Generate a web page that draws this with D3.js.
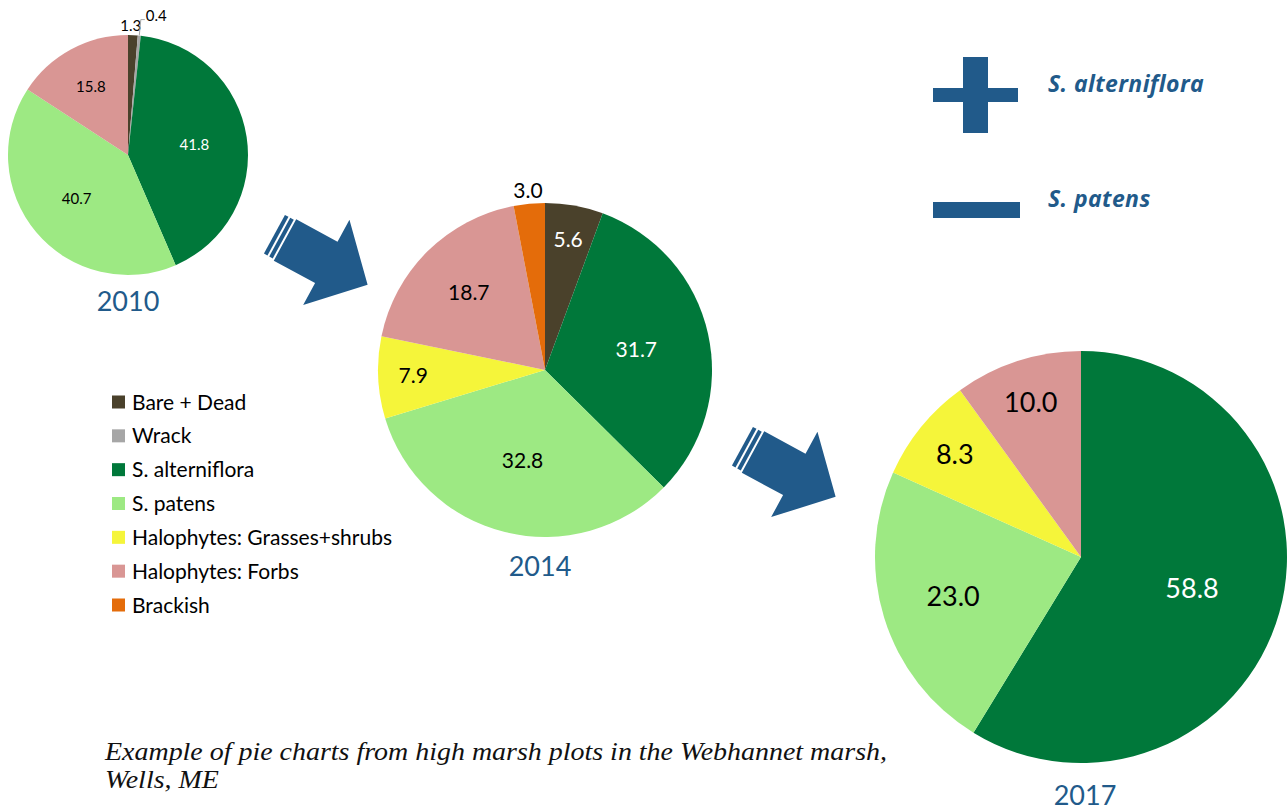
<!DOCTYPE html>
<html>
<head>
<meta charset="utf-8">
<script src="https://cdn.jsdelivr.net/npm/d3@7"></script>
<style>
  body { margin: 0; background: #fff; }
  svg { display: block; }
</style>
</head>
<body>
<div class="chart"></div>
<script>
// categories + one value list per year (percent cover)
var categories = ["Bare + Dead", "Wrack", "S. alterniflora", "S. patens",
                  "Halophytes: Grasses+shrubs", "Halophytes: Forbs", "Brackish"];
var years = ["2010", "2014", "2017"];
var values2010 = [1.3, 0.4, 41.8, 40.7, 0, 15.8, 0];
var values2014 = [5.6, 0, 31.7, 32.8, 7.9, 18.7, 3.0];
var values2017 = [0, 0, 58.8, 23.0, 8.3, 10.0, 0];
var trendLabels = ["S. alterniflora", "S. patens"];
var captionLines = ["Example of pie charts from high marsh plots in the Webhannet marsh,", "Wells, ME"];

// styling
var palette = ["#4a412b", "#a6a6a6", "#00783a", "#9de983", "#f5f53a", "#d99694", "#e46c0a"];
var darkSlices = ["Bare + Dead", "S. alterniflora"];
var blue = "#215a8a";
var sans = "Lato, 'Open Sans', sans-serif";

var svgWidth = 1288, svgHeight = 810;

var svg = d3.select(".chart")
  .append("svg")
    .attr("width", svgWidth)
    .attr("height", svgHeight);

var color = d3.scaleOrdinal().domain(categories).range(palette);

// where each pie sits
var pieLayout = [
  { year: years[0], values: values2010, cx: 128, cy: 155, r: 120, font: 15, yearX: 128, yearY: 311 },
  { year: years[1], values: values2014, cx: 545, cy: 370, r: 167, font: 21, yearX: 540, yearY: 576 },
  { year: years[2], values: values2017, cx: 1081, cy: 557, r: 206, font: 27, yearX: 1085, yearY: 805 }
];

var pie = d3.pie().sort(null).value(function(d) { return d.value; });

// excel style "best fit": bigger slices keep label nearer the centre
function labelFactor(v) {
  if (v >= 30) return 0.56;
  if (v >= 15) return 0.65;
  if (v >= 5) return 0.79;
  return 1.08;
}

pieLayout.forEach(function(p) {
  var rows = categories.map(function(c, i) { return { cat: c, value: p.values[i] }; });
  var arcs = pie(rows);
  var g = svg.append("g").attr("transform", "translate(" + p.cx + "," + p.cy + ")");

  var arc = d3.arc().innerRadius(0).outerRadius(p.r);

  g.selectAll(".slice")
    .data(arcs.filter(function(d) { return d.data.value > 0; }))
    .enter()
    .append("path")
      .classed("slice", true)
      .attr("d", arc)
      .attr("fill", function(d) { return color(d.data.cat); });

  arcs.forEach(function(d, i) {
    var v = d.data.value;
    if (v <= 0) return;
    var mid = (d.startAngle + d.endAngle) / 2;
    var sx = Math.sin(mid), sy = -Math.cos(mid);
    var txt = d3.format(".1f")(v);

    if (v < 1) {
      // tiny slice: leader line out to the label
      var r0 = p.r, r1 = p.r + 16;
      var ex = sx * r1, ey = sy * r1;
      g.append("polyline")
        .attr("points", [[sx * r0, sy * r0], [ex, ey], [ex + 4, ey]].join(" "))
        .attr("fill", "none")
        .attr("stroke", "#a6a6a6")
        .attr("stroke-width", 1);
      g.append("text")
        .attr("x", ex + 5)
        .attr("y", ey)
        .attr("dy", "0.1em")
        .attr("font-family", sans)
        .attr("font-size", p.font)
        .attr("fill", "#000")
        .text(txt);
      return;
    }

    var k = labelFactor(v);
    var lx = sx * p.r * k, ly = sy * p.r * k;
    var anchor = "middle";
    var next = arcs[i + 1];
    if (k > 1 && next && next.data.value > 0 && next.data.value < 1) {
      // make room for the neighbour's leader
      anchor = "end";
      lx = lx + 8;
    }
    var inside = k < 1;
    g.append("text")
      .attr("x", lx)
      .attr("y", ly)
      .attr("dy", "0.35em")
      .attr("text-anchor", anchor)
      .attr("font-family", sans)
      .attr("font-size", p.font)
      .attr("fill", inside && darkSlices.indexOf(d.data.cat) >= 0 ? "#fff" : "#000")
      .text(txt);
  });

  svg.append("text")
    .attr("x", p.yearX)
    .attr("y", p.yearY)
    .attr("text-anchor", "middle")
    .attr("font-family", sans)
    .attr("font-size", 27)
    .attr("fill", blue)
    .text(p.year);
});

// legend
var legendY = d3.scalePoint().domain(categories).range([402, 605]);
var legend = svg.append("g");
categories.forEach(function(c) {
  legend.append("rect")
    .attr("x", 112)
    .attr("y", legendY(c) - 6.5)
    .attr("width", 13)
    .attr("height", 13)
    .attr("fill", color(c));
  legend.append("text")
    .attr("x", 132)
    .attr("y", legendY(c))
    .attr("dy", "0.36em")
    .attr("font-family", sans)
    .attr("font-size", 21)
    .attr("fill", "#000")
    .text(c);
});

// block arrows between the years (drawn along +x, then rotated)
var arrowShape = [[0, -23.5], [47, -23.5], [47, -48.5], [94, 0], [47, 48.5], [47, 23.5], [0, 23.5]];
var stripes = [[-6, -2], [-12, -8]];
var arrowSpots = [[285, 240], [753, 452]];
var arrowAngle = 28.5;
arrowSpots.forEach(function(a) {
  var ag = svg.append("g")
    .attr("transform", "translate(" + a[0] + "," + a[1] + ") rotate(" + arrowAngle + ")");
  ag.append("path")
    .attr("d", d3.line()(arrowShape) + "Z")
    .attr("fill", blue);
  stripes.forEach(function(s) {
    ag.append("rect")
      .attr("x", s[0])
      .attr("y", -22)
      .attr("width", s[1] - s[0])
      .attr("height", 44)
      .attr("fill", blue);
  });
});

// + / - key
var keyY = d3.scalePoint().domain(trendLabels).range([95, 210]);
var plus = svg.append("g").attr("fill", blue);
plus.append("rect").attr("x", 963).attr("y", keyY(trendLabels[0]) - 38).attr("width", 25).attr("height", 76);
plus.append("rect").attr("x", 933).attr("y", keyY(trendLabels[0]) - 7).attr("width", 85).attr("height", 14);
svg.append("rect").attr("x", 933).attr("y", keyY(trendLabels[1]) - 8).attr("width", 87).attr("height", 16).attr("fill", blue);
trendLabels.forEach(function(t) {
  svg.append("text")
    .attr("x", 1048)
    .attr("y", keyY(t) - 11)
    .attr("dy", "0.35em")
    .attr("font-family", "'Open Sans', Lato, sans-serif")
    .attr("font-style", "italic")
    .attr("font-weight", "bold")
    .attr("font-size", 23)
    .attr("letter-spacing", 0.4)
    .attr("fill", blue)
    .text(t);
});

// caption
var cap = svg.append("g");
var capText = cap.selectAll("text")
  .data(captionLines)
  .enter()
  .append("text")
    .attr("x", 105)
    .attr("y", function(d, i) { return 760 + i * 28; })
    .attr("font-family", "'Liberation Serif', serif")
    .attr("font-style", "italic")
    .attr("font-size", 26)
    .attr("fill", "#111")
    .text(function(d) { return d; });
var w0 = capText.nodes()[0].getComputedTextLength();
var squeeze = 782 / w0;
capText.each(function() {
  var w = this.getComputedTextLength();
  d3.select(this).attr("textLength", w * squeeze).attr("lengthAdjust", "spacingAndGlyphs");
});
</script>
</body>
</html>
